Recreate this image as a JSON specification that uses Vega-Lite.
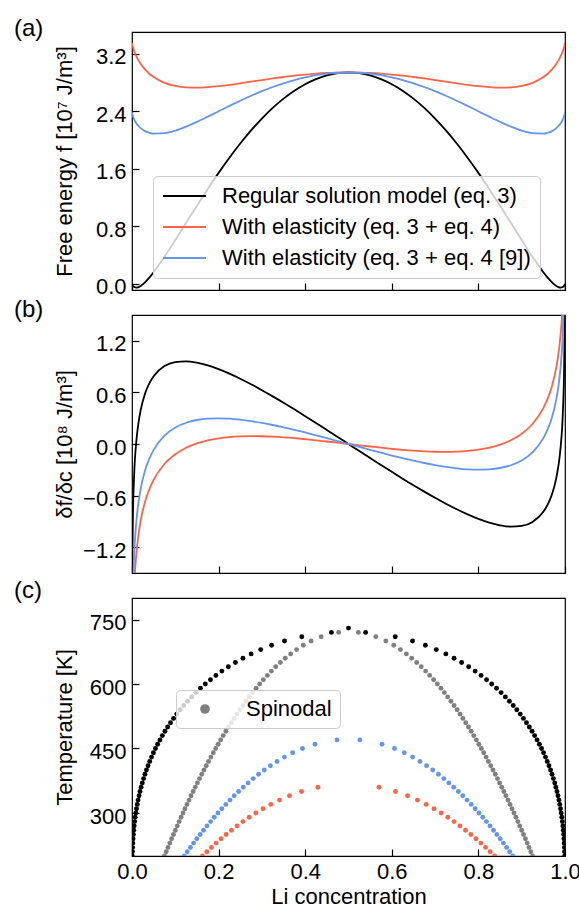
{
  "$schema": "https://vega.github.io/schema/vega-lite/v6.json",
  "background": "white",
  "padding": {"left": 13, "top": 16, "right": 0, "bottom": 0},
  "bounds": "flush",
  "spacing": 25,
  "config": {
    "font": "Liberation Sans",
    "view": {"stroke": "black", "strokeWidth": 1.2},
    "axis": {
      "grid": false, "domain": false, "tickColor": "black", "tickSize": -7, "tickWidth": 1.2,
      "labelFont": "Liberation Sans", "labelFontSize": 22, "labelColor": "black", "labelOverlap": false,
      "titleFont": "Liberation Sans", "titleFontSize": 22, "titleFontWeight": "normal", "titleColor": "black"
    },
    "axisX": {"labelPadding": 12, "labelFlush": false},
    "axisY": {"labelPadding": 13, "labelOffset": 3, "titleX": -67.6, "titleBaseline": "middle"},
    "legend": {
      "labelFont": "Liberation Sans", "labelFontSize": 22, "labelColor": "black", "labelLimit": 500,
      "fillColor": "rgba(255,255,255,0.8)", "strokeColor": "#cccccc", "cornerRadius": 4, "padding": 8
    }
  },
  "resolve": {"scale": {"color": "independent"}, "legend": {"color": "independent"}},
  "datasets": {
    "curves": [
      {"c":0,"fB":0,"fR":3.35,"fU":2.38,"dB":null,"dR":null,"dU":null},
      {"c":0.0005,"fB":-0.012,"fR":3.332,"fU":2.364,"dB":-1.71,"dR":-3.049,"dU":-2.661},
      {"c":0.001,"fB":-0.019,"fR":3.318,"fU":2.352,"dB":-1.299,"dR":-2.636,"dU":-2.249},
      {"c":0.002,"fB":-0.03,"fR":3.294,"fU":2.331,"dB":-0.89,"dR":-2.225,"dU":-1.838},
      {"c":0.005,"fB":-0.047,"fR":3.236,"fU":2.286,"dB":-0.358,"dR":-1.685,"dU":-1.301},
      {"c":0.01,"fB":-0.054,"fR":3.163,"fU":2.232,"dB":0.03,"dR":-1.283,"dU":-0.903},
      {"c":0.015,"fB":-0.047,"fR":3.105,"fU":2.193,"dB":0.247,"dR":-1.053,"dU":-0.677},
      {"c":0.02,"fB":-0.031,"fR":3.057,"fU":2.163,"dB":0.393,"dR":-0.893,"dU":-0.521},
      {"c":0.03,"fB":0.019,"fR":2.979,"fU":2.122,"dB":0.585,"dR":-0.675,"dU":-0.31},
      {"c":0.04,"fB":0.084,"fR":2.92,"fU":2.099,"dB":0.706,"dR":-0.527,"dU":-0.17},
      {"c":0.05,"fB":0.159,"fR":2.873,"fU":2.087,"dB":0.789,"dR":-0.417,"dU":-0.068},
      {"c":0.075,"fB":0.373,"fR":2.793,"fU":2.093,"dB":0.906,"dR":-0.233,"dU":0.097},
      {"c":0.1,"fB":0.606,"fR":2.75,"fU":2.129,"dB":0.952,"dR":-0.12,"dU":0.191},
      {"c":0.125,"fB":0.846,"fR":2.73,"fU":2.185,"dB":0.961,"dR":-0.044,"dU":0.247},
      {"c":0.15,"fB":1.085,"fR":2.726,"fU":2.251,"dB":0.945,"dR":0.007,"dU":0.279},
      {"c":0.175,"fB":1.317,"fR":2.733,"fU":2.323,"dB":0.914,"dR":0.043,"dU":0.295},
      {"c":0.2,"fB":1.541,"fR":2.747,"fU":2.397,"dB":0.87,"dR":0.066,"dU":0.299},
      {"c":0.225,"fB":1.752,"fR":2.765,"fU":2.472,"dB":0.818,"dR":0.081,"dU":0.295},
      {"c":0.25,"fB":1.949,"fR":2.787,"fU":2.544,"dB":0.759,"dR":0.089,"dU":0.283},
      {"c":0.275,"fB":2.131,"fR":2.809,"fU":2.613,"dB":0.695,"dR":0.092,"dU":0.266},
      {"c":0.3,"fB":2.296,"fR":2.832,"fU":2.677,"dB":0.626,"dR":0.09,"dU":0.245},
      {"c":0.325,"fB":2.444,"fR":2.854,"fU":2.735,"dB":0.554,"dR":0.085,"dU":0.221},
      {"c":0.35,"fB":2.573,"fR":2.874,"fU":2.787,"dB":0.48,"dR":0.078,"dU":0.194},
      {"c":0.375,"fB":2.683,"fR":2.893,"fU":2.832,"dB":0.403,"dR":0.068,"dU":0.165},
      {"c":0.4,"fB":2.774,"fR":2.908,"fU":2.869,"dB":0.324,"dR":0.056,"dU":0.134},
      {"c":0.425,"fB":2.845,"fR":2.921,"fU":2.899,"dB":0.244,"dR":0.043,"dU":0.101},
      {"c":0.45,"fB":2.896,"fR":2.93,"fU":2.92,"dB":0.163,"dR":0.029,"dU":0.068},
      {"c":0.475,"fB":2.927,"fR":2.935,"fU":2.933,"dB":0.082,"dR":0.015,"dU":0.034},
      {"c":0.5,"fB":2.937,"fR":2.937,"fU":2.937,"dB":0,"dR":0,"dU":0},
      {"c":0.525,"fB":2.927,"fR":2.935,"fU":2.933,"dB":-0.082,"dR":-0.015,"dU":-0.034},
      {"c":0.55,"fB":2.896,"fR":2.93,"fU":2.92,"dB":-0.163,"dR":-0.029,"dU":-0.068},
      {"c":0.575,"fB":2.845,"fR":2.921,"fU":2.899,"dB":-0.244,"dR":-0.043,"dU":-0.101},
      {"c":0.6,"fB":2.774,"fR":2.908,"fU":2.869,"dB":-0.324,"dR":-0.056,"dU":-0.134},
      {"c":0.625,"fB":2.683,"fR":2.893,"fU":2.832,"dB":-0.403,"dR":-0.068,"dU":-0.165},
      {"c":0.65,"fB":2.573,"fR":2.874,"fU":2.787,"dB":-0.48,"dR":-0.078,"dU":-0.194},
      {"c":0.675,"fB":2.444,"fR":2.854,"fU":2.735,"dB":-0.554,"dR":-0.085,"dU":-0.221},
      {"c":0.7,"fB":2.296,"fR":2.832,"fU":2.677,"dB":-0.626,"dR":-0.09,"dU":-0.245},
      {"c":0.725,"fB":2.131,"fR":2.809,"fU":2.613,"dB":-0.695,"dR":-0.092,"dU":-0.266},
      {"c":0.75,"fB":1.949,"fR":2.787,"fU":2.544,"dB":-0.759,"dR":-0.089,"dU":-0.283},
      {"c":0.775,"fB":1.752,"fR":2.765,"fU":2.472,"dB":-0.818,"dR":-0.081,"dU":-0.295},
      {"c":0.8,"fB":1.541,"fR":2.747,"fU":2.397,"dB":-0.87,"dR":-0.066,"dU":-0.299},
      {"c":0.825,"fB":1.317,"fR":2.733,"fU":2.323,"dB":-0.914,"dR":-0.043,"dU":-0.295},
      {"c":0.85,"fB":1.085,"fR":2.726,"fU":2.251,"dB":-0.945,"dR":-0.007,"dU":-0.279},
      {"c":0.875,"fB":0.846,"fR":2.73,"fU":2.185,"dB":-0.961,"dR":0.044,"dU":-0.247},
      {"c":0.9,"fB":0.606,"fR":2.75,"fU":2.129,"dB":-0.952,"dR":0.12,"dU":-0.191},
      {"c":0.925,"fB":0.373,"fR":2.793,"fU":2.093,"dB":-0.906,"dR":0.233,"dU":-0.097},
      {"c":0.95,"fB":0.159,"fR":2.873,"fU":2.087,"dB":-0.789,"dR":0.417,"dU":0.068},
      {"c":0.96,"fB":0.084,"fR":2.92,"fU":2.099,"dB":-0.706,"dR":0.527,"dU":0.17},
      {"c":0.97,"fB":0.019,"fR":2.979,"fU":2.122,"dB":-0.585,"dR":0.675,"dU":0.31},
      {"c":0.98,"fB":-0.031,"fR":3.057,"fU":2.163,"dB":-0.393,"dR":0.893,"dU":0.521},
      {"c":0.985,"fB":-0.047,"fR":3.105,"fU":2.193,"dB":-0.247,"dR":1.053,"dU":0.677},
      {"c":0.99,"fB":-0.054,"fR":3.163,"fU":2.232,"dB":-0.03,"dR":1.283,"dU":0.903},
      {"c":0.995,"fB":-0.047,"fR":3.236,"fU":2.286,"dB":0.358,"dR":1.685,"dU":1.301},
      {"c":0.998,"fB":-0.03,"fR":3.294,"fU":2.331,"dB":0.89,"dR":2.225,"dU":1.838},
      {"c":0.999,"fB":-0.019,"fR":3.318,"fU":2.352,"dB":1.299,"dR":2.636,"dU":2.249},
      {"c":0.9995,"fB":-0.012,"fR":3.332,"fU":2.364,"dB":1.71,"dR":3.049,"dU":2.661},
      {"c":1,"fB":0,"fR":3.35,"fU":2.38,"dB":null,"dR":null,"dU":null}
    ],
    "dots": [
      {"T":200,"k1":0.00074,"k2":0.99926,"g1":0.0749,"g2":0.9251,"b1":0.1207,"b2":0.8793,"r1":0.1626,"r2":0.8374},
      {"T":210,"k1":0.00105,"k2":0.99895,"g1":0.079,"g2":0.921,"b1":0.1277,"b2":0.8723,"r1":0.1728,"r2":0.8272},
      {"T":220,"k1":0.00144,"k2":0.99856,"g1":0.0831,"g2":0.9169,"b1":0.1349,"b2":0.8651,"r1":0.1834,"r2":0.8166},
      {"T":230,"k1":0.00193,"k2":0.99807,"g1":0.0873,"g2":0.9127,"b1":0.1422,"b2":0.8578,"r1":0.1943,"r2":0.8057},
      {"T":240,"k1":0.00252,"k2":0.99748,"g1":0.0915,"g2":0.9085,"b1":0.1497,"b2":0.8503,"r1":0.2057,"r2":0.7943},
      {"T":250,"k1":0.00322,"k2":0.99678,"g1":0.0958,"g2":0.9042,"b1":0.1574,"b2":0.8426,"r1":0.2174,"r2":0.7826},
      {"T":260,"k1":0.00405,"k2":0.99595,"g1":0.1001,"g2":0.8999,"b1":0.1652,"b2":0.8348,"r1":0.2298,"r2":0.7702},
      {"T":270,"k1":0.00501,"k2":0.99499,"g1":0.1045,"g2":0.8955,"b1":0.1732,"b2":0.8268,"r1":0.2427,"r2":0.7573},
      {"T":280,"k1":0.00612,"k2":0.99388,"g1":0.1089,"g2":0.8911,"b1":0.1815,"b2":0.8185,"r1":0.2562,"r2":0.7438},
      {"T":290,"k1":0.00738,"k2":0.99262,"g1":0.1133,"g2":0.8867,"b1":0.1899,"b2":0.8101,"r1":0.2706,"r2":0.7294},
      {"T":300,"k1":0.00879,"k2":0.99121,"g1":0.1178,"g2":0.8822,"b1":0.1986,"b2":0.8014,"r1":0.286,"r2":0.714},
      {"T":310,"k1":0.01036,"k2":0.98964,"g1":0.1224,"g2":0.8776,"b1":0.2075,"b2":0.7925,"r1":0.3025,"r2":0.6975},
      {"T":320,"k1":0.01212,"k2":0.98788,"g1":0.127,"g2":0.873,"b1":0.2167,"b2":0.7833,"r1":0.3206,"r2":0.6794},
      {"T":330,"k1":0.01407,"k2":0.98593,"g1":0.1317,"g2":0.8683,"b1":0.2262,"b2":0.7738,"r1":0.3407,"r2":0.6593},
      {"T":340,"k1":0.0162,"k2":0.9838,"g1":0.1364,"g2":0.8636,"b1":0.2361,"b2":0.7639,"r1":0.3637,"r2":0.6363},
      {"T":350,"k1":0.01852,"k2":0.98148,"g1":0.1412,"g2":0.8588,"b1":0.2463,"b2":0.7537,"r1":0.3915,"r2":0.6085},
      {"T":360,"k1":0.02104,"k2":0.97896,"g1":0.1461,"g2":0.8539,"b1":0.257,"b2":0.743,"r1":0.4295,"r2":0.5705},
      {"T":370,"k1":0.02379,"k2":0.97621,"g1":0.151,"g2":0.849,"b1":0.2682,"b2":0.7318},
      {"T":380,"k1":0.02674,"k2":0.97326,"g1":0.156,"g2":0.844,"b1":0.2799,"b2":0.7201},
      {"T":390,"k1":0.02994,"k2":0.97006,"g1":0.1611,"g2":0.8389,"b1":0.2923,"b2":0.7077},
      {"T":400,"k1":0.03335,"k2":0.96665,"g1":0.1662,"g2":0.8338,"b1":0.3055,"b2":0.6945},
      {"T":410,"k1":0.037,"k2":0.963,"g1":0.1715,"g2":0.8285,"b1":0.3197,"b2":0.6803},
      {"T":420,"k1":0.0409,"k2":0.9591,"g1":0.1768,"g2":0.8232,"b1":0.335,"b2":0.665},
      {"T":430,"k1":0.0451,"k2":0.9549,"g1":0.1822,"g2":0.8178,"b1":0.352,"b2":0.648},
      {"T":440,"k1":0.0495,"k2":0.9505,"g1":0.1877,"g2":0.8123,"b1":0.3711,"b2":0.6289},
      {"T":450,"k1":0.0542,"k2":0.9458,"g1":0.1933,"g2":0.8067,"b1":0.3937,"b2":0.6063},
      {"T":460,"k1":0.0592,"k2":0.9408,"g1":0.199,"g2":0.801,"b1":0.4226,"b2":0.5774},
      {"T":470,"k1":0.0645,"k2":0.9355,"g1":0.2048,"g2":0.7952,"b1":0.4737,"b2":0.5263},
      {"T":480,"k1":0.0701,"k2":0.9299,"g1":0.2107,"g2":0.7893},
      {"T":490,"k1":0.0761,"k2":0.9239,"g1":0.2168,"g2":0.7832},
      {"T":500,"k1":0.0824,"k2":0.9176,"g1":0.223,"g2":0.777},
      {"T":510,"k1":0.089,"k2":0.911,"g1":0.2293,"g2":0.7707},
      {"T":520,"k1":0.096,"k2":0.904,"g1":0.2358,"g2":0.7642},
      {"T":530,"k1":0.1034,"k2":0.8966,"g1":0.2424,"g2":0.7576},
      {"T":540,"k1":0.1113,"k2":0.8887,"g1":0.2492,"g2":0.7508},
      {"T":550,"k1":0.1196,"k2":0.8804,"g1":0.2562,"g2":0.7438},
      {"T":560,"k1":0.1284,"k2":0.8716,"g1":0.2634,"g2":0.7366},
      {"T":570,"k1":0.1377,"k2":0.8623,"g1":0.2709,"g2":0.7291},
      {"T":580,"k1":0.1476,"k2":0.8524,"g1":0.2786,"g2":0.7214},
      {"T":590,"k1":0.1581,"k2":0.8419,"g1":0.2865,"g2":0.7135},
      {"T":600,"k1":0.1693,"k2":0.8307,"g1":0.2948,"g2":0.7052},
      {"T":610,"k1":0.1812,"k2":0.8188,"g1":0.3034,"g2":0.6966},
      {"T":620,"k1":0.1938,"k2":0.8062,"g1":0.3125,"g2":0.6875},
      {"T":630,"k1":0.2076,"k2":0.7924,"g1":0.3219,"g2":0.6781},
      {"T":640,"k1":0.2225,"k2":0.7775,"g1":0.332,"g2":0.668},
      {"T":650,"k1":0.2388,"k2":0.7612,"g1":0.3426,"g2":0.6574},
      {"T":660,"k1":0.2562,"k2":0.7438,"g1":0.354,"g2":0.646},
      {"T":670,"k1":0.2752,"k2":0.7248,"g1":0.3664,"g2":0.6336},
      {"T":680,"k1":0.2973,"k2":0.7027,"g1":0.3801,"g2":0.6199},
      {"T":690,"k1":0.3224,"k2":0.6776,"g1":0.3955,"g2":0.6045},
      {"T":700,"k1":0.3522,"k2":0.6478,"g1":0.4137,"g2":0.5863},
      {"T":710,"k1":0.3921,"k2":0.6079,"g1":0.4369,"g2":0.5631},
      {"T":720,"k1":0.4605,"k2":0.5395,"g1":0.4772,"g2":0.5228},
      {"T":730,"k1":0.5}
    ]
  },
  "vconcat": [
    {
      "title": {"text": "(a)", "anchor": "start", "frame": "group", "dx": -118, "dy": 28, "offset": 0, "baseline": "alphabetic", "fontSize": 24, "fontWeight": "normal", "font": "Liberation Sans", "color": "black"},
      "width": 433, "height": 258,
      "data": {"name": "curves"},
      "transform": [{"fold": ["fB", "fR", "fU"], "as": ["series", "val"]}],
      "mark": {"type": "line", "strokeWidth": 1.8, "clip": true, "interpolate": "monotone"},
      "encoding": {
        "x": {"field": "c", "type": "quantitative", "scale": {"domain": [0, 1], "nice": false, "zero": false},
              "axis": {"values": [0, 0.2, 0.4, 0.6, 0.8, 1], "labels": false, "title": null}},
        "y": {"field": "val", "type": "quantitative", "scale": {"domain": [-0.088, 3.5], "nice": false, "zero": false},
              "axis": {"values": [0, 0.8, 1.6, 2.4, 3.2], "format": ".1f", "title": "Free energy f [10⁷ J/m³]"}},
        "color": {"field": "series", "type": "nominal",
                  "scale": {"domain": ["fB", "fR", "fU"], "range": ["black", "tomato", "cornflowerblue"]},
                  "legend": {"orient": "none", "legendX": 21, "legendY": 144, "title": null,
                             "symbolType": "stroke", "symbolSize": 1849, "symbolStrokeWidth": 1.8,
                             "labelOffset": 15, "rowPadding": 9, "clipHeight": 22, "padding": 9,
                             "labelExpr": "datum.value == 'fB' ? 'Regular solution model (eq. 3)' : datum.value == 'fR' ? 'With elasticity (eq. 3 + eq. 4)' : 'With elasticity (eq. 3 + eq. 4 [9])'"}}
      }
    },
    {
      "title": {"text": "(b)", "anchor": "start", "frame": "group", "dx": -118, "dy": 26, "offset": 0, "baseline": "alphabetic", "fontSize": 24, "fontWeight": "normal", "font": "Liberation Sans", "color": "black"},
      "width": 433, "height": 258,
      "data": {"name": "curves"},
      "transform": [{"fold": ["dB", "dR", "dU"], "as": ["series", "val"]}],
      "mark": {"type": "line", "strokeWidth": 1.8, "clip": true, "interpolate": "monotone"},
      "encoding": {
        "x": {"field": "c", "type": "quantitative", "scale": {"domain": [0, 1], "nice": false, "zero": false},
              "axis": {"values": [0, 0.2, 0.4, 0.6, 0.8, 1], "labels": false, "title": null}},
        "y": {"field": "val", "type": "quantitative", "scale": {"domain": [-1.5, 1.5], "nice": false, "zero": false},
              "axis": {"values": [-1.2, -0.6, 0, 0.6, 1.2], "format": ".1f", "title": "δf/δc [10⁸ J/m³]"}},
        "color": {"field": "series", "type": "nominal",
                  "scale": {"domain": ["dB", "dR", "dU"], "range": ["black", "tomato", "cornflowerblue"]},
                  "legend": null}
      }
    },
    {
      "title": {"text": "(c)", "anchor": "start", "frame": "group", "dx": -118, "dy": 24, "offset": 0, "baseline": "alphabetic", "fontSize": 24, "fontWeight": "normal", "font": "Liberation Sans", "color": "black"},
      "width": 433, "height": 258,
      "data": {"name": "dots"},
      "transform": [{"fold": ["k1", "k2", "g1", "g2", "b1", "b2", "r1", "r2"], "as": ["key", "c"]}],
      "mark": {"type": "point", "filled": true, "size": 24, "opacity": 1, "clip": true},
      "encoding": {
        "x": {"field": "c", "type": "quantitative", "scale": {"domain": [0, 1], "nice": false, "zero": false},
              "axis": {"values": [0, 0.2, 0.4, 0.6, 0.8, 1], "format": ".1f", "title": "Li concentration", "titleY": 47, "titleBaseline": "alphabetic"}},
        "y": {"field": "T", "type": "quantitative", "scale": {"domain": [200, 800], "nice": false, "zero": false},
              "axis": {"values": [300, 450, 600, 750], "format": "d", "title": "Temperature [K]"}},
        "color": {"field": "key", "type": "nominal",
                  "scale": {"domain": ["k1", "k2", "g1", "g2", "b1", "b2", "r1", "r2"],
                            "range": ["black", "black", "gray", "gray", "cornflowerblue", "cornflowerblue", "tomato", "tomato"]},
                  "legend": {"orient": "none", "legendX": 44, "legendY": 92, "title": null, "values": ["g1"],
                             "labelExpr": "'Spinodal'", "symbolType": "circle", "symbolSize": 95, "symbolOffset": 10,
                             "labelOffset": 30, "symbolStrokeWidth": 0, "clipHeight": 22}}
      }
    }
  ]
}
